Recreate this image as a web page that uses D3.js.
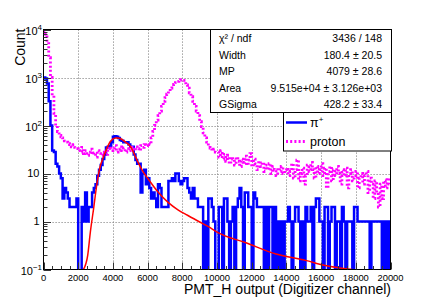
<!DOCTYPE html>
<html lang="en">
<head>
<meta charset="UTF-8">
<title>PMT_H output</title>
<script src="https://d3js.org/d3.v7.min.js"></script>
<style>
  body { margin: 0; background: #fff; }
  svg text { font-family: "Liberation Sans", Arial, Helvetica, sans-serif; fill: #000; }
</style>
</head>
<body>
<div id="chart"></div>
<script>
// histogram bins: 200 bins of 100 channels, 0 .. 20000
var binWidth = 100;

// pi+ counts (blue histogram)
var piCounts = [
  1000, 950, 750, 320, 100, 30, 28, 16, 14, 10,
  8, 3, 5, 4, 3, 2, 2, 2, 2, 3,
  0, 0, 2, 1, 4, 1, 2, 2, 4, 5,
  6, 9, 12, 15, 20, 25, 35, 36, 38, 45,
  58, 60, 58, 55, 50, 48, 45, 45, 45, 40,
  36, 36, 25, 19, 16, 16, 4, 10, 12, 6,
  8, 5, 3, 4, 3, 2, 6, 5, 2, 2,
  2, 2, 7, 7, 8, 7, 10, 10, 7, 6,
  7, 8, 8, 5, 4, 3, 5, 3, 3, 2,
  2, 2, 0, 1, 0, 3, 3, 2, 1, 0,
  0, 2, 2, 0, 3, 3, 1, 0, 1, 2,
  0, 2, 3, 5, 2, 0, 4, 4, 2, 2,
  0, 4, 3, 2, 2, 2, 2, 0, 2, 0,
  2, 2, 0, 2, 0, 1, 0, 1, 0, 1,
  1, 2, 1, 0, 1, 2, 2, 1, 0, 1,
  0, 2, 1, 1, 2, 0, 2, 3, 3, 1,
  1, 0, 2, 2, 0, 1, 2, 2, 0, 1,
  1, 0, 2, 1, 0, 1, 1, 1, 0, 2,
  2, 1, 1, 1, 1, 1, 1, 1, 0, 1,
  1, 1, 1, 1, 1, 0, 1, 0, 1, 0
];

// proton counts (magenta dotted histogram)
var protonCounts = [
  9500, 8000, 5500, 2600, 1000, 420, 180, 100, 75, 62,
  58, 55, 48, 45, 42, 40, 36, 40, 35, 33,
  30, 28, 35, 26, 30, 24, 28, 32, 25, 27,
  22, 30, 26, 24, 28, 30, 25, 33, 36, 30,
  34, 38, 28, 32, 36, 30, 34, 28, 33, 30,
  35, 32, 30, 36, 33, 30, 38, 35, 40, 38,
  42, 40, 55, 75, 100, 130, 160, 200, 250, 320,
  380, 450, 520, 600, 650, 720, 780, 830, 880, 900,
  870, 800, 700, 600, 480, 400, 320, 250, 200, 160,
  120, 95, 70, 55, 45, 38, 34, 30, 32, 28,
  28, 22, 30, 20, 25, 18, 24, 16, 22, 20,
  15, 22, 18, 14, 20, 17, 23, 15, 19, 26,
  14, 20, 16, 12, 18, 14, 17, 11, 15, 12,
  16, 10, 14, 12, 9, 13, 11, 14, 10, 12,
  13, 9, 11, 16, 8, 12, 19, 7, 10, 13,
  6, 9, 15, 11, 17, 12, 8, 14, 10, 12,
  16, 9, 13, 5, 11, 14, 7, 12, 9, 14,
  10, 6, 12, 9, 13, 5, 10, 12, 7, 9,
  11, 5, 8, 10, 6, 9, 11, 4, 8, 6,
  3, 7, 4, 2, 6, 3, 7, 5, 8, 6
];

// Landau (x) Gauss fit
var fitChannel = [2300, 2550, 2700, 2900, 3075, 3265, 3455, 3600, 3860, 4150, 4300, 4450, 4720, 5000, 5200, 5450, 5700, 6000, 6600, 7180, 7750, 8300, 8950, 9480, 10000, 11670, 13400, 15100, 16165, 17800];
var fitValue   = [0.1, 0.2, 0.6, 2, 6, 14, 22, 30, 47, 55, 55, 53, 45, 37, 27, 17, 11.5, 8, 4.1, 2.5, 1.75, 1.35, 1.0, 0.79, 0.6, 0.36, 0.21, 0.155, 0.123, 0.1];

var xTicks = [0, 2000, 4000, 6000, 8000, 10000, 12000, 14000, 16000, 18000, 20000];
var yTicks = [0.1, 1, 10, 100, 1000, 10000];
var yTickBase = ["10", "1", "10", "10", "10", "10"];
var yTickExp  = ["\u22121", "", "", "2", "3", "4"];

var statNames  = ["\u03c7\u00b2 / ndf", "Width", "MP", "Area", "GSigma"];
var statValues = ["3436 / 148", "180.4 \u00b1 20.5", "4079 \u00b1 28.6", "9.515e+04 \u00b1 3.126e+03", "428.2 \u00b1 33.4"];

var W = 436, H = 300;
var frame = {left: 43.5, right: 390.5, top: 29.5, bottom: 269.5};

var svg = d3.select("#chart").append("svg")
    .attr("width", W).attr("height", H)
    .style("display", "block");

var x = d3.scaleLinear().domain([0, 20000]).range([frame.left, frame.right]);
var y = d3.scaleLog().domain([0.1, 10000]).range([frame.bottom, frame.top]);

svg.append("clipPath").attr("id", "plotclip")
  .append("rect")
    .attr("x", frame.left).attr("y", frame.top)
    .attr("width", frame.right - frame.left).attr("height", frame.bottom - frame.top);

// grid
var grid = svg.append("g").attr("stroke", "#888").attr("stroke-width", 1).attr("stroke-dasharray", "1.2,1.8");
grid.selectAll("line.gx").data(xTicks.slice(1, -1)).enter().append("line")
    .attr("x1", function(d) { return Math.round(x(d)) + 0.5; })
    .attr("x2", function(d) { return Math.round(x(d)) + 0.5; })
    .attr("y1", frame.top).attr("y2", frame.bottom);
grid.selectAll("line.gy").data(yTicks.slice(1, -1)).enter().append("line")
    .attr("y1", function(d) { return Math.round(y(d)) + 0.5; })
    .attr("y2", function(d) { return Math.round(y(d)) + 0.5; })
    .attr("x1", frame.left).attr("x2", frame.right);

// build a ROOT-style step outline, empty bins fall out of the frame
function histPoints(counts) {
  var pts = [];
  counts.forEach(function(c, i) {
    var v = c > 0 ? c : 0.01;
    pts.push([x(i * binWidth), y(v)], [x((i + 1) * binWidth), y(v)]);
  });
  return pts;
}

var line = d3.line();
var plot = svg.append("g").attr("clip-path", "url(#plotclip)");

plot.append("path")
    .attr("d", line(histPoints(piCounts)))
    .attr("fill", "none")
    .attr("stroke", "#0000ff")
    .attr("stroke-width", 2.5);

plot.append("path")
    .attr("d", line(histPoints(protonCounts)))
    .attr("fill", "none")
    .attr("stroke", "#ff00ff")
    .attr("stroke-width", 2.8)
    .attr("stroke-dasharray", "2,2.2");

var fitLine = d3.line()
    .x(function(d, i) { return x(fitChannel[i]); })
    .y(function(d) { return y(d); })
    .curve(d3.curveMonotoneX);

plot.append("path")
    .attr("d", fitLine(fitValue))
    .attr("fill", "none")
    .attr("stroke", "#ff0000")
    .attr("stroke-width", 1.5);

// frame
svg.append("rect")
    .attr("x", frame.left).attr("y", frame.top)
    .attr("width", frame.right - frame.left).attr("height", frame.bottom - frame.top)
    .attr("fill", "none").attr("stroke", "#000").attr("stroke-width", 1);

// x ticks (inside, minor every 500)
var xMinor = d3.range(0, 20001, 500);
svg.append("g").attr("stroke", "#333").selectAll("line").data(xMinor).enter().append("line")
    .attr("x1", function(d) { return Math.round(x(d)) + 0.5; })
    .attr("x2", function(d) { return Math.round(x(d)) + 0.5; })
    .attr("y1", frame.bottom)
    .attr("y2", function(d) { return frame.bottom - (d % 2000 === 0 ? 7 : 3.5); });

svg.append("g").selectAll("text").data(xTicks).enter().append("text")
    .attr("x", function(d) { return x(d); })
    .attr("y", 281)
    .attr("text-anchor", "middle")
    .attr("font-size", 9.4)
    .text(function(d) { return d; });

// y ticks (log, minor at 2..9)
var yMinor = [];
for (var e = -1; e < 4; e++) {
  for (var k = 1; k < 10; k++) yMinor.push(k * Math.pow(10, e));
}
yMinor.push(10000);
svg.append("g").attr("stroke", "#333").selectAll("line").data(yMinor).enter().append("line")
    .attr("y1", function(d) { return Math.round(y(d)) + 0.5; })
    .attr("y2", function(d) { return Math.round(y(d)) + 0.5; })
    .attr("x1", frame.left)
    .attr("x2", function(d) {
      var l = Math.log10(d);
      return frame.left + (Math.abs(l - Math.round(l)) < 1e-9 ? 7.5 : 4);
    });

var yLab = svg.append("g").selectAll("text").data(yTicks).enter().append("text")
    .attr("x", function(d, i) { return yTickExp[i] ? 42 : 39.5; })
    .attr("y", function(d, i) { return y(d) + (yTickExp[i] ? 5 : 3.8); })
    .attr("text-anchor", "end")
    .attr("font-size", 11);
yLab.append("tspan").text(function(d, i) { return yTickBase[i]; });
yLab.append("tspan")
    .attr("dy", -4.5)
    .attr("font-size", 8)
    .text(function(d, i) { return yTickExp[i]; });

// axis titles
svg.append("text")
    .attr("transform", "translate(24.5,28.5) rotate(-90)")
    .attr("text-anchor", "end")
    .attr("font-size", 14)
    .text("Count");

svg.append("text")
    .attr("x", 391).attr("y", 293.5)
    .attr("text-anchor", "end")
    .attr("font-size", 14)
    .text("PMT_H output (Digitizer channel)");

// stats box
svg.append("rect")
    .attr("x", 210.5).attr("y", 29.5).attr("width", 181).attr("height", 83)
    .attr("fill", "#fff").attr("stroke", "#000");

var rowY = [42, 58.5, 75, 91.5, 108];
svg.append("g").selectAll("text").data(statNames).enter().append("text")
    .attr("x", 219).attr("y", function(d, i) { return rowY[i]; })
    .attr("font-size", 10.5)
    .text(function(d) { return d; });
svg.append("g").selectAll("text").data(statValues).enter().append("text")
    .attr("x", 382).attr("y", function(d, i) { return rowY[i]; })
    .attr("text-anchor", "end")
    .attr("font-size", 10.5)
    .text(function(d) { return d; });

// legend
svg.append("rect")
    .attr("x", 283.5).attr("y", 112.5).attr("width", 108).attr("height", 38.5)
    .attr("fill", "#fff").attr("stroke", "#000");

svg.append("line")
    .attr("x1", 286).attr("x2", 307).attr("y1", 122.5).attr("y2", 122.5)
    .attr("stroke", "#0000ff").attr("stroke-width", 2.5);
svg.append("line")
    .attr("x1", 286).attr("x2", 307).attr("y1", 141.5).attr("y2", 141.5)
    .attr("stroke", "#ff00ff").attr("stroke-width", 2.8).attr("stroke-dasharray", "2,2.2");

var piLab = svg.append("text").attr("x", 310).attr("y", 127).attr("font-size", 12.5);
piLab.append("tspan").text("\u03c0");
piLab.append("tspan").attr("dy", -5).attr("font-size", 8).text("+");

svg.append("text").attr("x", 310).attr("y", 146).attr("font-size", 12.5).text("proton");
</script>
</body>
</html>
